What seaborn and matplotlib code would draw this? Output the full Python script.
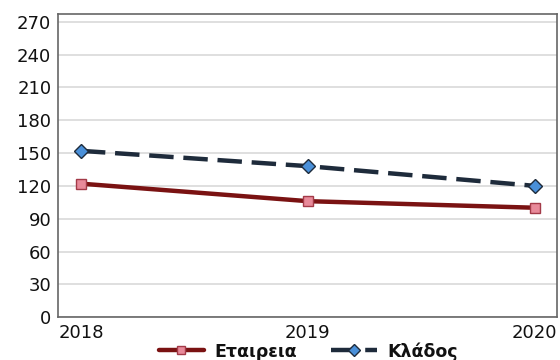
import pandas as pd
import matplotlib
matplotlib.use("Agg")
import matplotlib.pyplot as plt
from matplotlib.lines import Line2D
import seaborn as sns

# Données
years = [2018, 2019, 2020]
etaireia = [122, 106, 100]
klados = [152, 138, 120]
yticks = [0, 30, 60, 90, 120, 150, 180, 210, 240, 270]

df = pd.DataFrame({"year": years, "Εταιρεια": etaireia, "Κλάδος": klados})

sns.set_style("white")
plt.rcParams["font.family"] = ["DejaVu Sans"]

fig = plt.figure(figsize=(5.6, 3.6), dpi=100)
ax = fig.add_axes([0.104, 0.119, 0.891, 0.842])

red = dict(color="#7a1212", marker="s", markerfacecolor="#e88a9a",
           markeredgecolor="#a33a48", markeredgewidth=1)
blue = dict(color="#1e2b3b", linestyle=(0, (5.5, 2.2)), marker="D",
            markerfacecolor="#4a90d9", markeredgecolor="#1e2b3b", markeredgewidth=1)

sns.lineplot(data=df, x="year", y="Εταιρεια", ax=ax, linewidth=3.2, markersize=7.5, **red)
sns.lineplot(data=df, x="year", y="Κλάδος", ax=ax, linewidth=3.2, markersize=7, **blue)

ax.set_xlim(2017.9, 2020.1)
ax.set_ylim(0, 277)
ax.set_xticks(years)
ax.set_xticklabels([str(y) for y in years])
ax.set_yticks(yticks)
ax.tick_params(axis="both", labelsize=13, labelcolor="#111111", length=4, color="#555555", pad=1)
ax.yaxis.grid(True, color="#d9d9d9", linewidth=1.2)
ax.set_axisbelow(True)
ax.set_xlabel("")
ax.set_ylabel("")
for s in ax.spines.values():
    s.set_color("#666666")
    s.set_linewidth(1.2)

# légende avec des marqueurs plus petits
handles = [Line2D([], [], linewidth=3.2, markersize=6, **red),
           Line2D([], [], linewidth=3.2, markersize=6, **blue)]
fig.legend(handles, ["Εταιρεια", "Κλάδος"], loc="lower center", bbox_to_anchor=(0.55, -0.045),
           ncol=2, frameon=False, prop={"weight": "bold", "size": 12.5}, handlelength=2.6,
           columnspacing=2.0, handletextpad=0.6, labelcolor="#111111")

plt.savefig("out.png", dpi=100)
